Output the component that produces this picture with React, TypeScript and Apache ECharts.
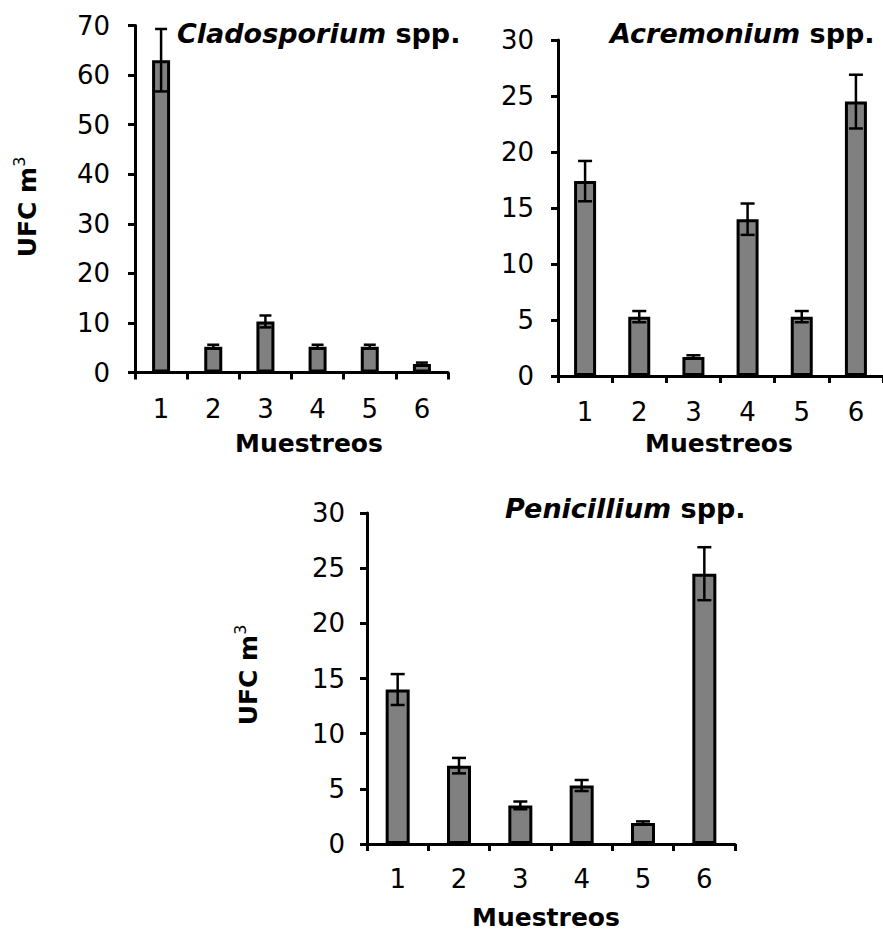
import React, { useEffect, useRef } from "react";
import * as echarts from "echarts";

const categories = ["1", "2", "3", "4", "5", "6"];
const cladoValues = [63, 5.2, 10.3, 5.2, 5.2, 1.7];
const cladoErrors = [6.3, 0.4, 1.2, 0.4, 0.4, 0.3];
const acreValues = [17.4, 5.3, 1.7, 14.0, 5.3, 24.5];
const acreErrors = [1.8, 0.5, 0.15, 1.4, 0.5, 2.4];
const peniValues = [14.0, 7.1, 3.5, 5.3, 1.9, 24.5];
const peniErrors = [1.4, 0.7, 0.35, 0.5, 0.15, 2.4];
const titlesItalic = ["Cladosporium", "Acremonium", "Penicillium"];
const xAxisTitle = "Muestreos";

const FONT = "DejaVu Sans";

export default function App() {
  const ref = useRef<HTMLDivElement>(null);
  useEffect(() => {
    if (!ref.current) return;
    const chart = echarts.init(ref.current, undefined, { renderer: "svg" });

    const grids = [
      { left: 135, top: 25.5, width: 313, height: 347 },
      { left: 558, top: 40, width: 330, height: 336 },
      { left: 367, top: 513, width: 368, height: 331 },
    ];
    const yMax = [70, 30, 30];
    const yInt = [10, 5, 5];
    const labelSize = [26, 26, 26];
    const yMargin = [25, 24, 22];
    const xMargin = [23, 23, 22];
    const barWidths = [18, 22, 24];
    const capHalf = [6, 7, 7];
    const valuesList = [cladoValues, acreValues, peniValues];
    const errorsList = [cladoErrors, acreErrors, peniErrors];

    const axisLine = { show: true, lineStyle: { color: "#000", width: 3 } };
    const axisTick = { show: true, length: 7, lineStyle: { color: "#000", width: 3 } };

    const xAxis = grids.map((_, i) => ({
      type: "category",
      gridIndex: i,
      data: categories,
      boundaryGap: true,
      axisLine,
      axisTick: { ...axisTick, alignWithLabel: false },
      axisLabel: { color: "#000", fontSize: labelSize[i], fontFamily: FONT, margin: xMargin[i] },
      splitLine: { show: false },
    }));
    const yAxis = grids.map((_, i) => ({
      type: "value",
      gridIndex: i,
      min: 0,
      max: yMax[i],
      interval: yInt[i],
      axisLine,
      axisTick,
      axisLabel: { color: "#000", fontSize: labelSize[i], fontFamily: FONT, margin: yMargin[i] },
      splitLine: { show: false },
    }));

    const series: any[] = [];
    valuesList.forEach((vals, i) => {
      series.push({
        type: "bar",
        xAxisIndex: i,
        yAxisIndex: i,
        data: vals,
        barWidth: barWidths[i],
        itemStyle: { color: "#808080", borderColor: "#000", borderWidth: 3 },
        z: 2,
      });
      const errs = errorsList[i];
      series.push({
        type: "custom",
        xAxisIndex: i,
        yAxisIndex: i,
        z: 5,
        encode: { x: 0, y: [1, 2] },
        data: vals.map((v, k) => [k, v - errs[k], v + errs[k]]),
        renderItem: (params: any, api: any) => {
          const x = api.value(0);
          const lo = api.coord([x, api.value(1)]);
          const hi = api.coord([x, api.value(2)]);
          const hw = capHalf[i];
          const st = { stroke: "#000", lineWidth: 2.5 };
          return {
            type: "group",
            children: [
              { type: "line", shape: { x1: lo[0], y1: hi[1], x2: lo[0], y2: lo[1] }, style: st },
              { type: "line", shape: { x1: lo[0] - hw, y1: hi[1], x2: lo[0] + hw, y2: hi[1] }, style: st },
              { type: "line", shape: { x1: lo[0] - hw, y1: lo[1], x2: lo[0] + hw, y2: lo[1] }, style: st },
            ],
          };
        },
      });
    });

    const titlePos = [
      [177, 33],
      [610, 33],
      [505, 508],
    ];
    const xTitlePos = [
      [309, 443],
      [719, 443],
      [546, 917],
    ];
    const yTitlePos = [
      [27, 207],
      [248, 675],
    ];

    const graphic: any[] = [];
    titlePos.forEach((p, i) => {
      graphic.push({
        type: "text",
        x: p[0],
        y: p[1],
        style: {
          text: `{i|${titlesItalic[i]}}{b| spp.}`,
          rich: {
            i: { fontStyle: "italic", fontWeight: "bold", fontSize: 27, fontFamily: FONT, fill: "#000" },
            b: { fontWeight: "bold", fontSize: 27, fontFamily: FONT, fill: "#000" },
          },
          textAlign: "left",
          textVerticalAlign: "middle",
          align: "left",
          verticalAlign: "middle",
        },
      });
    });
    xTitlePos.forEach((p) => {
      graphic.push({
        type: "text",
        x: p[0],
        y: p[1],
        style: {
          text: xAxisTitle,
          fontWeight: "bold",
          fontSize: 25,
          lineHeight: 26,
          fontFamily: FONT,
          fill: "#000",
          textAlign: "center",
          textVerticalAlign: "middle",
          align: "center",
          verticalAlign: "middle",
        },
      });
    });
    yTitlePos.forEach((p) => {
      graphic.push({
        type: "text",
        x: p[0],
        y: p[1],
        rotation: Math.PI / 2,
        style: {
          text: "{a|UFC m}{b|3}",
          rich: {
            a: { fontWeight: "bold", fontSize: 25, lineHeight: 32, fontFamily: FONT, fill: "#000" },
            b: { fontSize: 16, lineHeight: 16, verticalAlign: "top", fontFamily: FONT, fill: "#000" },
          },
          textAlign: "center",
          textVerticalAlign: "middle",
          align: "center",
          verticalAlign: "middle",
        },
      });
    });

    chart.setOption({
      animation: false,
      backgroundColor: "#fff",
      grid: grids.map((g) => ({ ...g, containLabel: false })),
      xAxis,
      yAxis,
      series,
      graphic,
    });
    return () => chart.dispose();
  }, []);
  return (
    <div
      ref={ref}
      style={{ position: "absolute", left: 0, top: 0, width: 883, height: 931, background: "#fff" }}
    />
  );
}
